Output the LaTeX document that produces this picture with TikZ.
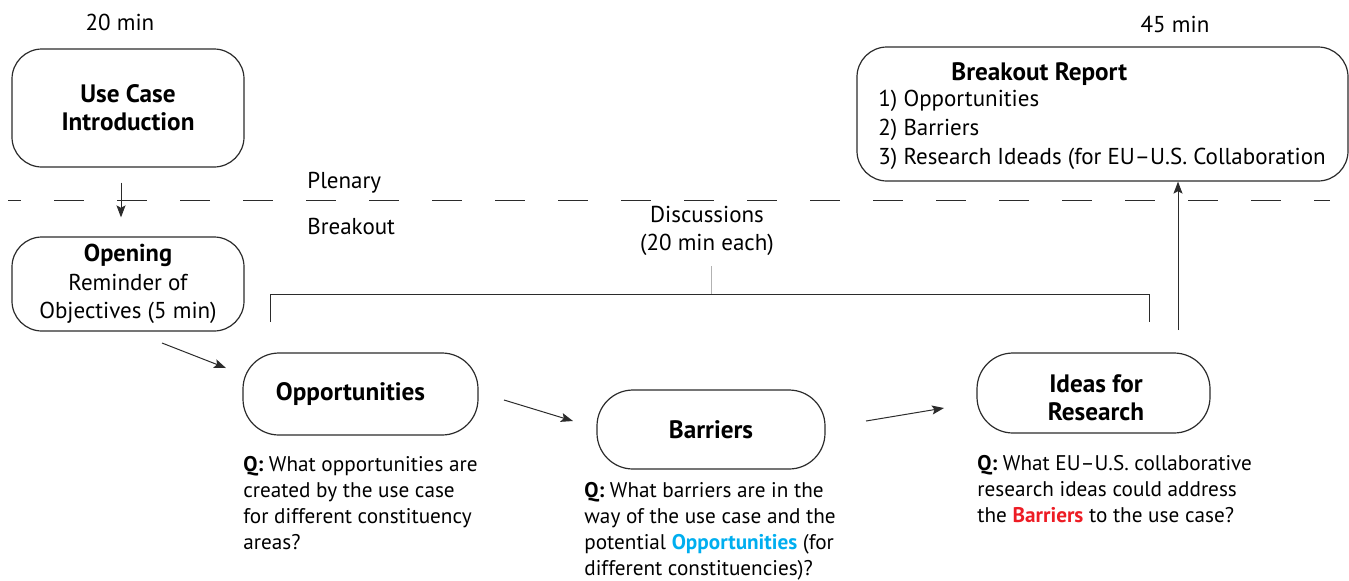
\documentclass[tikz,border=0pt]{standalone}
\usepackage{fontspec}
\setmainfont{PT Sans}
\usetikzlibrary{arrows.meta}
\definecolor{ln}{HTML}{2B2B2B}
\definecolor{oppblue}{HTML}{00AEEF}
\definecolor{barred}{HTML}{ED1C24}
\begin{document}
\begin{tikzpicture}[x=0.5pt,y=-0.5pt,
  every node/.style={font=\fontsize{11.5}{14}\selectfont, text=black, inner sep=0pt},
  box/.style={draw=ln, line width=0.6pt, rectangle, rounded corners=15pt},
  pill/.style={draw=ln, line width=0.6pt, rectangle, rounded corners=18pt},
  arr/.style={draw=ln, line width=0.5pt, -{Stealth[length=6pt,width=4.5pt,inset=1.2pt]}},
  qtext/.style={anchor=base west, align=left, font=\fontsize{10.6}{13}\selectfont},
  title/.style={font=\fontsize{12.6}{14}\selectfont\bfseries, align=center}
]
\useasboundingbox (0,0) rectangle (1349,580);

% timing labels
\node (t20) at (120,22) {20 min};
\node (t45) at (1175,24) {45 min};

% plenary / breakout separator
\draw[ln, line width=0.5pt, dash pattern=on 15pt off 16.5pt, dash phase=8.5pt] (8,200) coordinate (dl) -- (1330,200) coordinate (dr);
\node[anchor=west] (plen) at (307,183) {Plenary};
\node[anchor=west] (brk) at (307,226) {Breakout};

% boxes
\node[box, minimum width=116pt, minimum height=59pt, title] (uc) at (128,108) {Use Case\\Introduction};
\node[box, minimum width=116pt, minimum height=47pt, align=center, font=\fontsize{11.5}{14.25}\selectfont] (op) at (128,284) {\textbf{\fontsize{12.2}{14.25}\selectfont Opening}\\Reminder of\\Objectives (5 min)};
\node[pill, minimum width=117.5pt, minimum height=41pt, title] (opp) at (360.5,394) {\hspace*{-10pt}Opportunities};
\node[pill, minimum width=114pt, minimum height=39.5pt, title] (bar) at (711,429.5) {Barriers};
\node[pill, minimum width=116.5pt, minimum height=40pt] (ide) at (1093.5,393) {};
\node[title] (idetitle) at (1096,398) {Ideas for\\Research};
\node[box, minimum width=245.5pt, minimum height=67pt] (rep) at (1102.5,114) {};
\node[anchor=base west, font=\fontsize{12.6}{14}\selectfont\bfseries] (reptitle) at (951,80) {Breakout Report};
\node[anchor=base west, align=left, font=\fontsize{11.5}{14.5}\selectfont] (replist) at (878,164) {1) Opportunities\\2) Barriers\\3) Research Ideads (for EU–U.S. Collaboration};

% discussions bracket
\node[align=center, font=\fontsize{11.5}{14}\selectfont] (disc) at (707,231) {Discussions\\(20 min each)};
\coordinate (bl) at (270,322);
\coordinate (br) at (1149,322);
\coordinate (btop) at (711,294);
\draw[ln, line width=0.5pt] (bl) -- (270,294) -- (1149,294) -- (br);
\draw[gray!60, line width=0.4pt] (btop) -- (711,266) coordinate (btick);

% question texts
\node[qtext] (qopp) at (243,549) {\textbf{Q:} What opportunities are\\created by the use case\\for different constituency\\areas?};
\node[qtext] (qbar) at (584,575) {\textbf{Q:} What barriers are in the\\way of the use case and the\\potential \textcolor{oppblue}{\textbf{Opportunities}} (for\\different constituencies)?};
\node[qtext] (qide) at (977,522) {\textbf{Q:} What EU–U.S. collaborative\\research ideas could address\\the \textcolor{barred}{\textbf{Barriers}} to the use case?};

% connectors
\draw[arr, shorten <=7.5pt, shorten >=9.5pt] ([xshift=-3.5pt]uc.south) -- ([xshift=-3.5pt]op.north);
\coordinate (a2s) at (162,343);
\coordinate (a2e) at (226,368);
\draw[arr] (a2s) -- (a2e);
\coordinate (a3s) at (504,400);
\coordinate (a3e) at (573,421);
\draw[arr] (a3s) -- (a3e);
\coordinate (a4s) at (866,421);
\coordinate (a4e) at (944,408);
\draw[arr] (a4s) -- (a4e);
\coordinate (a5s) at (1178,330);
\draw[arr] (a5s) -- (a5s |- rep.south);
\end{tikzpicture}
\end{document}
